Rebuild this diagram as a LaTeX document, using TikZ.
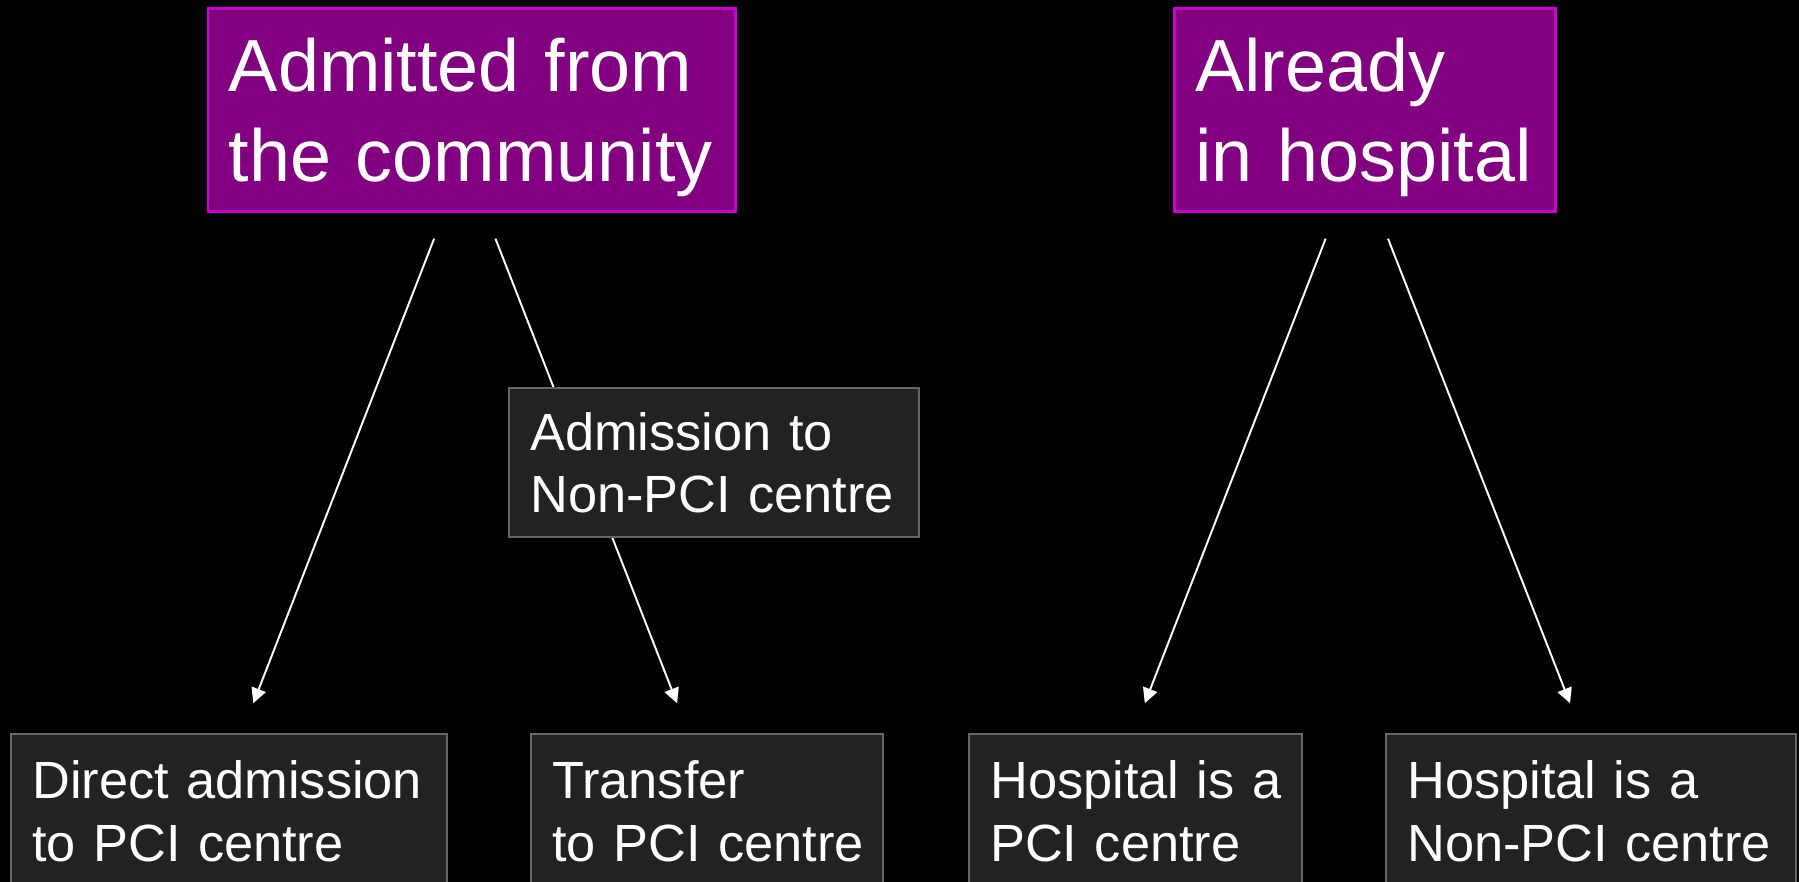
\documentclass[tikz,border=0pt]{standalone}
\usepackage{fontspec}
\setmainfont{Liberation Sans}
\usetikzlibrary{arrows.meta,positioning}

\definecolor{headfill}{RGB}{128,0,128}
\definecolor{headline}{RGB}{204,0,204}
\definecolor{boxfill}{RGB}{34,34,34}
\definecolor{boxline}{RGB}{102,102,102}
\hyphenpenalty=10000

\begin{document}
\begin{tikzpicture}[
    x=0.02cm, y=-0.02cm,
    head/.style={fill=headfill, draw=headline, line width=1.5pt, text=white,
        anchor=north west, align=left, inner xsep=0.42cm, inner ysep=0pt,
        minimum height=4.06cm, text depth=50.9pt,
        font=\fontsize{42}{50.9}\selectfont},
    stage/.style={fill=boxfill, draw=boxline, line width=1.4pt, text=white,
        anchor=north west, align=left, inner xsep=0.42cm, inner ysep=0pt,
        minimum height=3.08cm, font=\fontsize{29.8}{35.5}\selectfont},
    flow/.style={draw=white, line width=1.1pt,
        -{Triangle[length=8.5pt,width=8.5pt]},
        shorten <=0.56cm, shorten >=0.64cm}
]
% page, pixel grid
\useasboundingbox (0,0) rectangle (1799,882);
\clip (0,0) rectangle (1799,882);
\fill[black] (0,0) rectangle (1799,882);

% where the patient starts
\node[head, text width=9.72cm] (community) at (206.5,7) {Admitted~from\\the~community};
\node[head, text width=6.78cm] (inhospital) at (1173,7) {Already\\in~hospital};

% where the patient ends up
\node[stage, text width=7.88cm] (direct) at (10,733) {Direct~admission\\to~PCI~centre};
\node[stage, text width=6.20cm] (transfer) at (530,733) {Transfer\\to~PCI~centre};
\node[stage, text width=5.82cm] (pcihosp) at (968,733) {Hospital~is~a\\PCI~centre};
\node[stage, text width=7.36cm] (nonpcihosp) at (1385,733) {Hospital~is~a\\Non-PCI~centre};

\draw[flow] ([xshift=-0.55cm]community.south) -- ([xshift=0.25cm]direct.north);
\draw[flow] ([xshift=0.27cm]community.south) -- ([xshift=-0.37cm]transfer.north);
\draw[flow] ([xshift=-0.58cm]inhospital.south) -- ([xshift=-0.05cm]pcihosp.north);
\draw[flow] ([xshift=0.26cm]inhospital.south) -- ([xshift=-0.19cm]nonpcihosp.north);

% sits on top of the transfer arrow
\node[stage, text width=7.36cm, minimum height=2.98cm] (nonpci) at (508,387) {Admission~to\\Non-PCI~centre};
\end{tikzpicture}
\end{document}
